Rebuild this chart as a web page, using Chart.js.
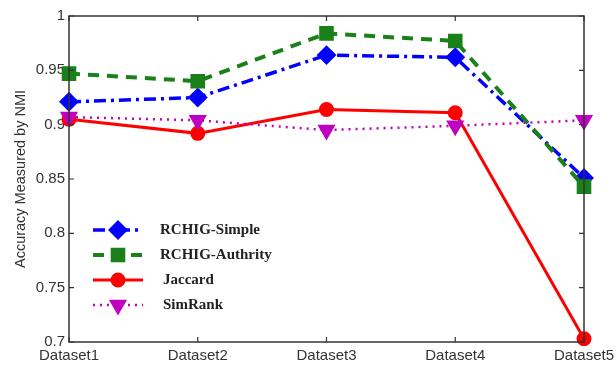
<!DOCTYPE html>
<html>
<head>
<meta charset="utf-8">
<script src="https://cdn.jsdelivr.net/npm/chart.js@4/dist/chart.umd.min.js"></script>
<style>
  html, body { margin: 0; padding: 0; background: #fff; }
  #wrap { width: 616px; height: 367px; }
</style>
</head>
<body>
<div id="wrap"><canvas id="nmiChart"></canvas></div>
<script>
const labels = ['Dataset1', 'Dataset2', 'Dataset3', 'Dataset4', 'Dataset5'];

const rchigSimple   = [0.921, 0.925, 0.964, 0.962, 0.851];
const rchigAuthrity = [0.947, 0.940, 0.984, 0.977, 0.843];
const jaccard       = [0.905, 0.892, 0.914, 0.911, 0.703];
const simRank       = [0.907, 0.904, 0.895, 0.899, 0.904];

// matlab style box with inward ticks
const boxPlugin = {
    id: 'box',
    afterDraw(chart) {
        const {ctx, chartArea: a, scales} = chart;
        ctx.save();
        ctx.strokeStyle = '#333';
        ctx.lineWidth = 1.5;
        ctx.strokeRect(a.left, a.top, a.right - a.left, a.bottom - a.top);
        ctx.lineWidth = 1.2;
        ctx.beginPath();
        labels.forEach((l, i) => {
            const x = scales.x.getPixelForValue(i);
            ctx.moveTo(x, a.bottom); ctx.lineTo(x, a.bottom - 5);
            ctx.moveTo(x, a.top); ctx.lineTo(x, a.top + 5);
        });
        scales.y.ticks.forEach(t => {
            const y = scales.y.getPixelForValue(t.value);
            ctx.moveTo(a.left, y); ctx.lineTo(a.left + 5, y);
            ctx.moveTo(a.right, y); ctx.lineTo(a.right - 5, y);
        });
        ctx.stroke();
        ctx.restore();
    }
};

// legend with line sample + marker, inside the plot
const lineLegend = {
    id: 'lineLegend',
    afterDraw(chart) {
        const {ctx, chartArea: a} = chart;
        const rows = [230, 255, 280, 305];
        const textX = [160, 160, 163, 163];
        ctx.save();
        chart.data.datasets.forEach((ds, i) => {
            const y = rows[i];
            const x0 = a.left + 24, x1 = a.left + 74, xm = (x0 + x1) / 2;
            ctx.strokeStyle = ds.borderColor;
            ctx.lineWidth = ds.borderWidth;
            ctx.setLineDash(ds.borderDash || []);
            ctx.beginPath();
            ctx.moveTo(x0, y); ctx.lineTo(x1, y);
            ctx.stroke();
            ctx.setLineDash([]);
            ctx.fillStyle = ds.pointBackgroundColor;
            ctx.strokeStyle = ds.pointBackgroundColor;
            Chart.helpers.drawPoint(ctx, {
                pointStyle: ds.pointStyle,
                radius: ds.pointRadius,
                rotation: ds.pointRotation || 0,
                borderWidth: 1
            }, xm, y);
            ctx.fillStyle = '#222';
            ctx.font = 'bold 15px "Liberation Serif", serif';
            ctx.textBaseline = 'middle';
            ctx.fillText(ds.label, textX[i], y);
        });
        ctx.restore();
    }
};

const ctx = document.getElementById('nmiChart').getContext('2d');

new Chart(ctx, {
    type: 'line',
    data: {
        labels: labels,
        datasets: [{
            label: 'RCHIG-Simple',
            data: rchigSimple,
            borderColor: '#0000ff',
            borderWidth: 3.5,
            borderDash: [12, 5, 3, 5],
            pointStyle: 'rectRot',
            pointRadius: 7.5,
            pointBackgroundColor: '#0000ff',
            pointBorderColor: '#0000ff',
            clip: false,
            order: 4
        }, {
            label: 'RCHIG-Authrity',
            data: rchigAuthrity,
            borderColor: '#1a801a',
            borderWidth: 4,
            borderDash: [11, 8],
            pointStyle: 'rect',
            pointRadius: 7.5,
            pointBackgroundColor: '#1a801a',
            pointBorderColor: '#1a801a',
            clip: false,
            order: 3
        }, {
            label: 'Jaccard',
            data: jaccard,
            borderColor: '#ff0000',
            borderWidth: 3,
            pointStyle: 'circle',
            pointRadius: 6,
            pointBackgroundColor: '#ff0000',
            pointBorderColor: '#ff0000',
            clip: false,
            order: 2
        }, {
            label: 'SimRank',
            data: simRank,
            borderColor: '#c000c0',
            borderWidth: 2.5,
            borderDash: [2, 5],
            pointStyle: 'triangle',
            pointRotation: 180,
            pointRadius: 8,
            pointBackgroundColor: '#c000c0',
            pointBorderColor: '#c000c0',
            clip: false,
            order: 1
        }]
    },
    options: {
        responsive: true,
        maintainAspectRatio: false,
        animation: false,
        layout: {
            padding: {top: 16, right: 32, bottom: 0, left: 0}
        },
        plugins: {
            legend: {display: false},
            tooltip: {enabled: false}
        },
        scales: {
            x: {
                offset: false,
                grid: {display: false, drawTicks: false},
                border: {display: false},
                ticks: {
                    color: '#333',
                    padding: 5,
                    maxRotation: 0,
                    font: {family: '"Liberation Sans", Arial', size: 15}
                },
                afterFit(scale) {
                    scale.height = 25;
                    scale.paddingRight = 0;
                    scale.paddingLeft = 0;
                }
            },
            y: {
                min: 0.7,
                max: 1,
                grid: {display: false, drawTicks: false},
                border: {display: false},
                ticks: {
                    stepSize: 0.05,
                    color: '#333',
                    padding: 4,
                    font: {family: '"Liberation Sans", Arial', size: 15},
                    callback: (v) => String(Math.round(v * 100) / 100)
                },
                title: {
                    display: true,
                    text: 'Accuracy Measured by NMI',
                    color: '#333',
                    padding: {top: 12, bottom: 0},
                    font: {family: '"Liberation Sans", Arial', size: 14.5}
                },
                afterFit(scale) {
                    scale.width = 69;
                }
            }
        }
    },
    plugins: [boxPlugin, lineLegend]
});
</script>
</body>
</html>
